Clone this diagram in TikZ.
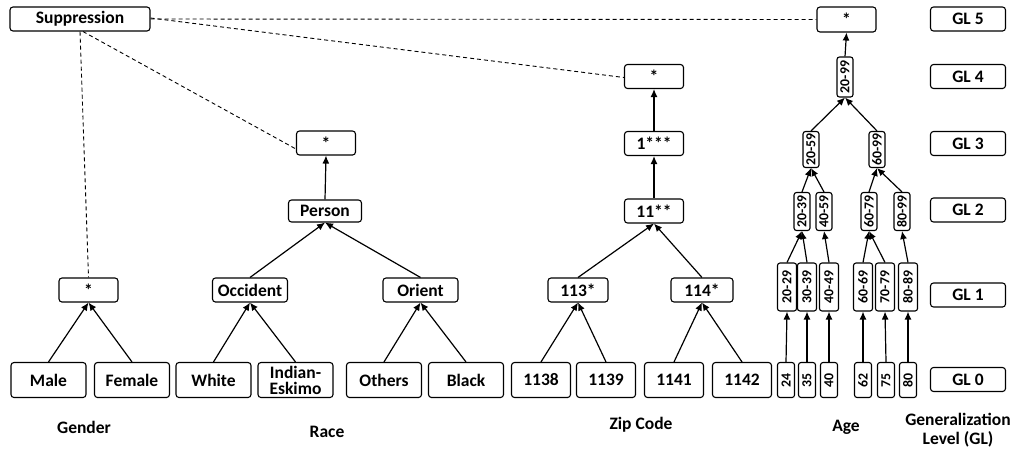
\documentclass[tikz,border=0pt]{standalone}
\usepackage{fontspec}
\setmainfont{Carlito}
\usetikzlibrary{arrows.meta}
\begin{document}
\begin{tikzpicture}[x=1pt,y=-1pt,
  every node/.style={font=\fontsize{17.5}{19}\selectfont\bfseries},
  bx/.style={draw,line width=1.1pt,rounded corners=3pt,inner sep=0pt,align=center},
  vb/.style={bx,rotate=90,rounded corners=2.5pt,font=\fontsize{13.8}{15}\selectfont\bfseries},
  arr/.style={line width=1.2pt,-{Latex[length=8pt,width=7pt]}},
  dsh/.style={line width=0.9pt,dash pattern=on 4pt off 3pt},
  lbl/.style={align=center}]
\useasboundingbox (0,0) rectangle (1016,451);
% Suppression
\node[bx,minimum width=140,minimum height=24] (sup) at (80,19) {Suppression};
% GL column
\node[bx,minimum width=75,minimum height=24] (gl5) at (968,19) {GL 5};
\node[bx,minimum width=75,minimum height=24] (gl4) at (968,76.5) {GL 4};
\node[bx,minimum width=75,minimum height=24] (gl3) at (968,143.5) {GL 3};
\node[bx,minimum width=75,minimum height=24] (gl2) at (968,210) {GL 2};
\node[bx,minimum width=75,minimum height=24] (gl1) at (968,295) {GL 1};
\node[bx,minimum width=75,minimum height=24] (gl0) at (968,379.5) {GL 0};
% Gender
\node[bx,minimum width=75,minimum height=35] (male) at (48.5,380) {Male};
\node[bx,minimum width=75,minimum height=35] (female) at (132,380) {Female};
\node[bx,minimum width=59,minimum height=24] (gstar) at (88.5,290) {*};
% Race
\node[bx,minimum width=75,minimum height=35] (white) at (213.5,380) {White};
\node[bx,minimum width=75,minimum height=35,font=\fontsize{17.5}{16}\selectfont\bfseries] (indian) at (295.5,380) {Indian-\\Eskimo};
\node[bx,minimum width=75,minimum height=35] (others) at (384,380) {Others};
\node[bx,minimum width=75,minimum height=35] (black) at (466,380) {Black};
\node[bx,minimum width=75,minimum height=24] (occ) at (250,290) {Occident};
\node[bx,minimum width=75,minimum height=24] (ori) at (420.5,290) {Orient};
\node[bx,minimum width=73,minimum height=22] (person) at (325,211) {Person};
\node[bx,minimum width=59,minimum height=24] (rstar) at (326,143) {*};
% Zip
\node[bx,minimum width=59,minimum height=35] (z1138) at (541,380) {1138};
\node[bx,minimum width=59,minimum height=35] (z1139) at (606,380) {1139};
\node[bx,minimum width=59,minimum height=35] (z1141) at (674,380) {1141};
\node[bx,minimum width=59,minimum height=35] (z1142) at (742,380) {1142};
\node[bx,minimum width=60,minimum height=24] (z113) at (578,290) {113*};
\node[bx,minimum width=62,minimum height=24] (z114) at (702,290) {114*};
\node[bx,minimum width=59,minimum height=24] (z11) at (654,211) {11**};
\node[bx,minimum width=59,minimum height=24] (z1) at (654,143.5) {1***};
\node[bx,minimum width=59,minimum height=24] (zstar) at (654,76.5) {*};
% Age GL0
\node[vb,minimum width=35,minimum height=17] (a24) at (786,380) {24};
\node[vb,minimum width=35,minimum height=17] (a35) at (807,380) {35};
\node[vb,minimum width=35,minimum height=17] (a40) at (829,380) {40};
\node[vb,minimum width=35,minimum height=17] (a62) at (863,380) {62};
\node[vb,minimum width=35,minimum height=17] (a75) at (886,380) {75};
\node[vb,minimum width=35,minimum height=17] (a80) at (908,380) {80};
% Age GL1
\node[vb,minimum width=48,minimum height=19] (a2029) at (787,287) {20-29};
\node[vb,minimum width=48,minimum height=19] (a3039) at (807,287) {30-39};
\node[vb,minimum width=48,minimum height=19] (a4049) at (829,287) {40-49};
\node[vb,minimum width=48,minimum height=19] (a6069) at (863,287) {60-69};
\node[vb,minimum width=48,minimum height=19] (a7079) at (885,287) {70-79};
\node[vb,minimum width=48,minimum height=19] (a8089) at (908,287) {80-89};
% Age GL2
\node[vb,minimum width=38,minimum height=16] (a2039) at (802,211.5) {20-39};
\node[vb,minimum width=38,minimum height=16] (a4059) at (824,211.5) {40-59};
\node[vb,minimum width=38,minimum height=16] (a6079) at (869,211.5) {60-79};
\node[vb,minimum width=38,minimum height=16] (a8099) at (902,211.5) {80-99};
% Age GL3, GL4, GL5
\node[vb,minimum width=36,minimum height=16] (a2059) at (811,149.5) {20-59};
\node[vb,minimum width=36,minimum height=16] (a6099) at (877,149.5) {60-99};
\node[vb,minimum width=40,minimum height=16] (a2099) at (845,77) {20-99};
\node[bx,minimum width=59,minimum height=25] (astar) at (846.5,19.5) {*};
% attribute labels
\node[lbl] (lgender) at (84,427) {Gender};
\node[lbl] (lrace) at (327,432) {Race};
\node[lbl] (lzip) at (641,425) {Zip Code};
\node[lbl] (lage) at (846,427) {Age};
\node[lbl,font=\fontsize{17.5}{19}\selectfont\bfseries] (lgl) at (958,430) {Generalization\\Level (GL)};
% dashed suppression links
\draw[dsh] (sup.south) -- (gstar.north);
\draw[dsh] ([xshift=3pt]sup.south) -- ([yshift=-6pt]rstar.west);
\draw[dsh] ([yshift=1pt]sup.east) -- ([yshift=-1pt]zstar.west);
\draw[dsh] (sup.east) -- (astar.west);
% gender arrows
\draw[arr] (male.north) -- (gstar.south);
\draw[arr] (female.north) -- (gstar.south);
% race arrows
\draw[arr] (white.north) -- (occ.south);
\draw[arr] (indian.north) -- (occ.south);
\draw[arr] (others.north) -- (ori.south);
\draw[arr] (black.north) -- (ori.south);
\draw[arr] (occ.north) -- (person.south);
\draw[arr] (ori.north) -- (person.south);
\draw[arr] (person.north) -- (rstar.south);
% zip arrows
\draw[arr] (z1138.north) -- (z113.south);
\draw[arr] (z1139.north) -- (z113.south);
\draw[arr] (z1141.north) -- (z114.south);
\draw[arr] (z1142.north) -- (z114.south);
\draw[arr] (z113.north) -- (z11.south);
\draw[arr] (z114.north) -- (z11.south);
\draw[arr] (z11.north) -- (z1.south);
\draw[arr] (z1.north) -- (zstar.south);
% age arrows (rotated nodes: east = top, west = bottom)
\draw[arr] (a24.east) -- (a2029.west);
\draw[arr] (a35.east) -- (a3039.west);
\draw[arr] (a40.east) -- (a4049.west);
\draw[arr] (a62.east) -- (a6069.west);
\draw[arr] (a75.east) -- (a7079.west);
\draw[arr] (a80.east) -- (a8089.west);
\draw[arr] (a2029.east) -- (a2039.west);
\draw[arr] (a3039.east) -- (a2039.west);
\draw[arr] (a4049.east) -- (a4059.west);
\draw[arr] (a6069.east) -- (a6079.west);
\draw[arr] (a7079.east) -- (a6079.west);
\draw[arr] (a8089.east) -- (a8099.west);
\draw[arr] (a2039.east) -- (a2059.west);
\draw[arr] (a4059.east) -- (a2059.west);
\draw[arr] (a6079.east) -- (a6099.west);
\draw[arr] (a8099.east) -- (a6099.west);
\draw[arr] (a2059.east) -- (a2099.west);
\draw[arr] (a6099.east) -- (a2099.west);
\draw[arr] (a2099.east) -- (astar.south);
\end{tikzpicture}
\end{document}
